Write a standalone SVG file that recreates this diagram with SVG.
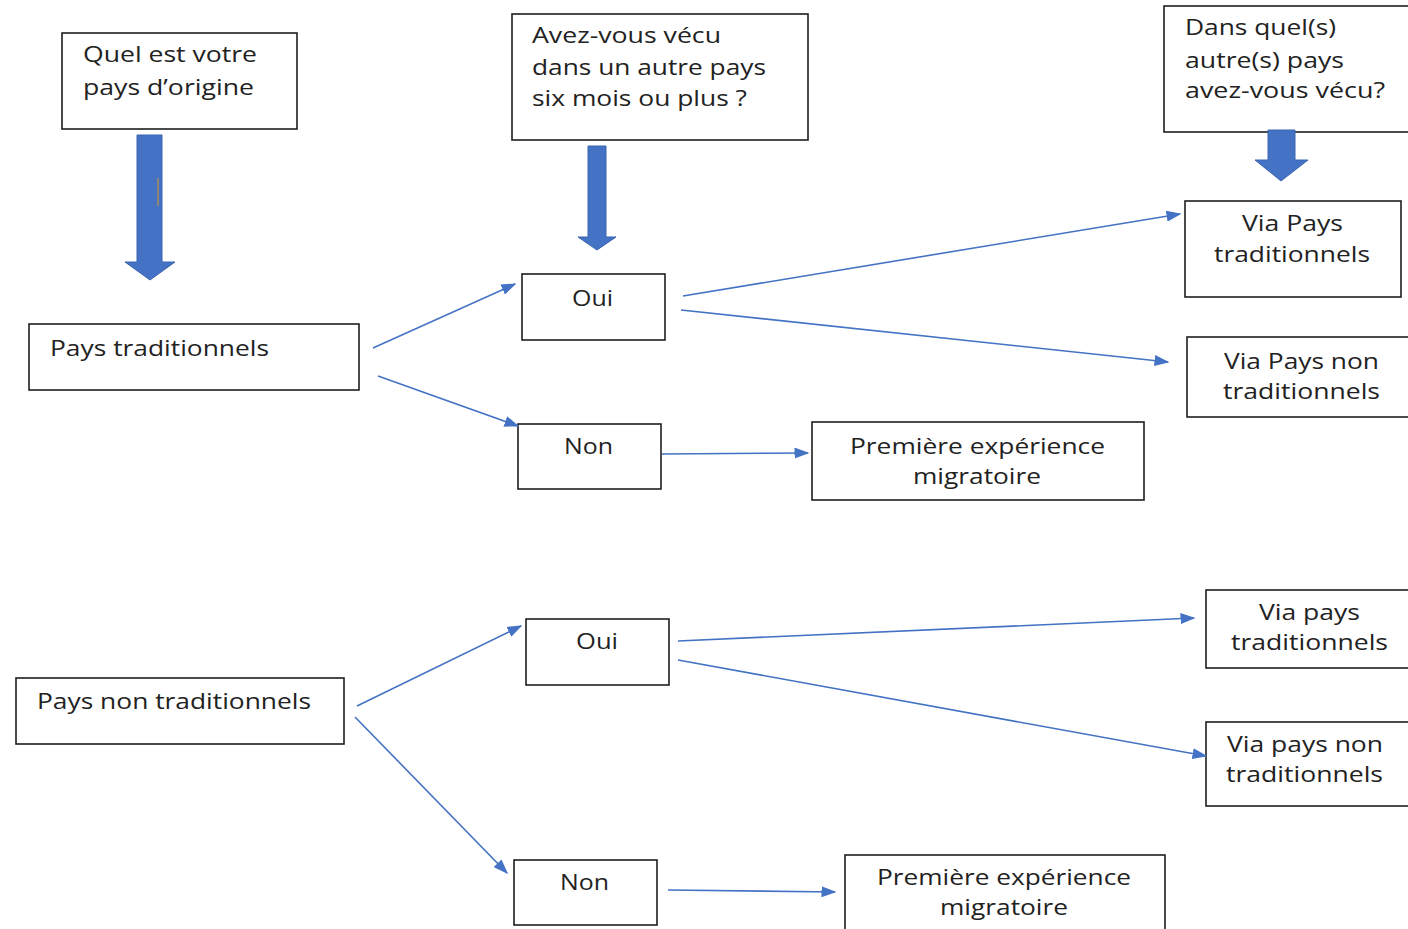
<svg xmlns="http://www.w3.org/2000/svg" width="1408" height="929" viewBox="0 0 1408 929">
<style>
.box{fill:#fff;stroke:#1e1e1e;stroke-width:1.6}
.t{font-family:"Open Sans","Liberation Sans",sans-serif;font-size:21px;fill:#222}
.c{text-anchor:middle}
.ln{stroke:#4472C4;stroke-width:1.6;fill:none;marker-end:url(#ah)}
.blk{fill:#4472C4;stroke:#3A64B0;stroke-width:1}
</style>
<defs>
<marker id="ah" viewBox="0 0 10 10" refX="9" refY="5" markerWidth="15" markerHeight="11" markerUnits="userSpaceOnUse" orient="auto" preserveAspectRatio="none">
<path d="M0,0 L10,5 L0,10 z" fill="#4472C4"/>
</marker>
</defs>
<rect width="1408" height="929" fill="#fff"/>

<g id="q1">
<rect class="box" x="62" y="33" width="235" height="96"/>
<text class="t" x="83" y="62" textLength="174" lengthAdjust="spacingAndGlyphs">Quel est votre</text>
<text class="t" x="83" y="95" textLength="171" lengthAdjust="spacingAndGlyphs">pays d’origine</text>
</g>
<g id="q2">
<rect class="box" x="512" y="14" width="296" height="126"/>
<text class="t" x="532" y="43" textLength="189" lengthAdjust="spacingAndGlyphs">Avez-vous vécu</text>
<text class="t" x="532" y="75" textLength="234" lengthAdjust="spacingAndGlyphs">dans un autre pays</text>
<text class="t" x="532" y="106" textLength="215" lengthAdjust="spacingAndGlyphs">six mois ou plus ?</text>
</g>
<g id="q3">
<rect class="box" x="1164" y="6" width="260" height="126"/>
<text class="t" x="1185" y="35" textLength="151" lengthAdjust="spacingAndGlyphs">Dans quel(s)</text>
<text class="t" x="1185" y="68" textLength="159" lengthAdjust="spacingAndGlyphs">autre(s) pays</text>
<text class="t" x="1185" y="98" textLength="200" lengthAdjust="spacingAndGlyphs">avez-vous vécu?</text>
</g>

<g id="blockarrows">
<path class="blk" d="M137,135 H162 V262 H175 L150,280 L125,262 H137 Z"/>
<line x1="158" y1="178" x2="158" y2="206" stroke="#C09040" stroke-width="1.2"/>
<path class="blk" d="M588,146 H606 V237 H616 L597,250 L578,237 H588 Z"/>
<path class="blk" d="M1268,130 H1295 V160 H1308 L1281,181 L1255,160 H1268 Z"/>
</g>

<g id="pt">
<rect class="box" x="29" y="324" width="330" height="66"/>
<text class="t" x="50" y="356" textLength="219" lengthAdjust="spacingAndGlyphs">Pays traditionnels</text>
</g>
<g id="oui1">
<rect class="box" x="522" y="274" width="143" height="66"/>
<text class="t c" x="592.5" y="306" textLength="41" lengthAdjust="spacingAndGlyphs">Oui</text>
</g>
<g id="non1">
<rect class="box" x="518" y="424" width="143" height="65"/>
<text class="t c" x="588.5" y="454" textLength="49" lengthAdjust="spacingAndGlyphs">Non</text>
</g>
<g id="pem1">
<rect class="box" x="812" y="422" width="332" height="78"/>
<text class="t c" x="977.5" y="454" textLength="255" lengthAdjust="spacingAndGlyphs">Première expérience</text>
<text class="t c" x="977" y="484" textLength="128" lengthAdjust="spacingAndGlyphs">migratoire</text>
</g>
<g id="vpt1">
<rect class="box" x="1185" y="201" width="216" height="96"/>
<text class="t c" x="1292.5" y="231" textLength="101" lengthAdjust="spacingAndGlyphs">Via Pays</text>
<text class="t c" x="1292" y="262" textLength="156" lengthAdjust="spacingAndGlyphs">traditionnels</text>
</g>
<g id="vpnt1">
<rect class="box" x="1187" y="337" width="240" height="80"/>
<text class="t c" x="1301.5" y="369" textLength="155" lengthAdjust="spacingAndGlyphs">Via Pays non</text>
<text class="t c" x="1301.5" y="399" textLength="157" lengthAdjust="spacingAndGlyphs">traditionnels</text>
</g>

<g id="pnt">
<rect class="box" x="16" y="678" width="328" height="66"/>
<text class="t" x="37" y="709" textLength="274" lengthAdjust="spacingAndGlyphs">Pays non traditionnels</text>
</g>
<g id="oui2">
<rect class="box" x="526" y="619" width="143" height="66"/>
<text class="t c" x="597" y="649" textLength="42" lengthAdjust="spacingAndGlyphs">Oui</text>
</g>
<g id="non2">
<rect class="box" x="514" y="860" width="143" height="65"/>
<text class="t c" x="584.5" y="890" textLength="49" lengthAdjust="spacingAndGlyphs">Non</text>
</g>
<g id="pem2">
<rect class="box" x="845" y="855" width="320" height="90"/>
<text class="t c" x="1004" y="885" textLength="254" lengthAdjust="spacingAndGlyphs">Première expérience</text>
<text class="t c" x="1004" y="915" textLength="128" lengthAdjust="spacingAndGlyphs">migratoire</text>
</g>
<g id="vpt2">
<rect class="box" x="1206" y="590" width="220" height="78"/>
<text class="t c" x="1309.5" y="620" textLength="101" lengthAdjust="spacingAndGlyphs">Via pays</text>
<text class="t c" x="1309.5" y="650" textLength="157" lengthAdjust="spacingAndGlyphs">traditionnels</text>
</g>
<g id="vpnt2">
<rect class="box" x="1206" y="722" width="220" height="84"/>
<text class="t c" x="1305" y="752" textLength="156" lengthAdjust="spacingAndGlyphs">Via pays non</text>
<text class="t c" x="1304.5" y="782" textLength="157" lengthAdjust="spacingAndGlyphs">traditionnels</text>
</g>

<g id="connectors">
<line class="ln" x1="373" y1="348" x2="515" y2="284"/>
<line class="ln" x1="378" y1="376" x2="518" y2="426"/>
<line class="ln" x1="683" y1="296" x2="1180" y2="214"/>
<line class="ln" x1="681" y1="310" x2="1168" y2="362"/>
<line class="ln" x1="662" y1="454" x2="808" y2="453"/>
<line class="ln" x1="357" y1="706" x2="521" y2="626"/>
<line class="ln" x1="355" y1="717" x2="507" y2="873"/>
<line class="ln" x1="678" y1="641" x2="1194" y2="618"/>
<line class="ln" x1="678" y1="660" x2="1206" y2="756"/>
<line class="ln" x1="668" y1="890" x2="835" y2="892"/>
</g>
</svg>
